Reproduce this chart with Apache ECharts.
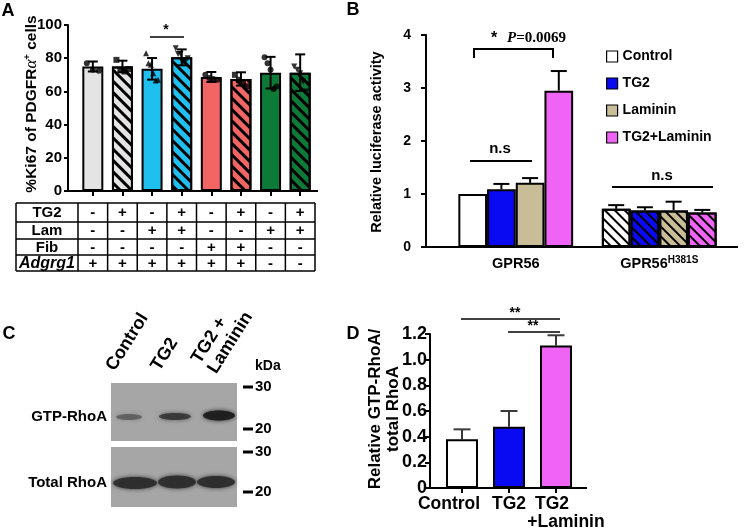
<!DOCTYPE html>
<html><head><meta charset="utf-8">
<script src="https://cdn.jsdelivr.net/npm/echarts@6/dist/echarts.min.js"></script>
<style>html,body{margin:0;padding:0;background:#fff}#c{width:745px;height:532px}</style>
</head><body><div id="c"></div>
<script>
const FONT = '"Liberation Sans", Arial, Helvetica, sans-serif';
const SERIF = '"Liberation Serif", "Times New Roman", serif';

// ---------- Panel A data ----------
const aConditions = ['1', '2', '3', '4', '5', '6', '7', '8'];
const aMeans = [75, 75, 73.6, 80.5, 68.7, 67.5, 71.3, 71.3];
const aSD = [3, 3.5, 6.5, 4.8, 3, 4, 9.5, 11];
const aDots = [
  [77, 73, 72.5],
  [79, 73, 72, 73.5],
  [83, 77, 76, 71, 66.5, 67],
  [86, 82.5, 82.5, 77.5, 78, 80],
  [70, 68, 67.5, 67],
  [70, 67, 65, 63],
  [80.5, 77, 73, 61.5, 63],
  [75, 73, 71, 66, 60]
];
const aYTicks = [0, 20, 40, 60, 80, 100];
const tableLabels = ['TG2', 'Lam', 'Fib', 'Adgrg1'];
const tableTG2 = ['-', '+', '-', '+', '-', '+', '-', '+'];
const tableLam = ['-', '-', '+', '+', '-', '-', '+', '+'];
const tableFib = ['-', '-', '-', '-', '+', '+', '-', '-'];
const tableAdgrg1 = ['+', '+', '+', '+', '+', '+', '-', '-'];

// ---------- Panel B data ----------
const bGroups = ['GPR56', 'GPR56H381S'];
const bNames = ['Control', 'TG2', 'Laminin', 'TG2+Laminin'];
const bControl = [1.0, 0.72];
const bTG2 = [1.09, 0.69];
const bLaminin = [1.21, 0.69];
const bTG2Laminin = [2.95, 0.65];
const bControlErr = [null, 0.79];
const bTG2Err = [1.19, 0.75];
const bLamininErr = [1.30, 0.855];
const bTG2LamininErr = [3.32, 0.70];

// ---------- Panel D data ----------
const dCats = ['Control', 'TG2', 'TG2+Laminin'];
const dValues = [0.38, 0.478, 1.11];
const dErrTop = [0.457, 0.60, 1.19];

// ---------- styles ----------
const aColors = ['#e4e4e4', '#e4e4e4', '#1fbff0', '#1fbff0', '#f26565', '#f26565', '#0d7a37', '#0d7a37'];
const aHatched = [false, true, false, true, false, true, false, true];
const aSymbols = ['circle', 'rect', 'triangle', 'path://M0,0 L10,0 L5,9 Z', 'circle', 'rect', 'circle', 'path://M0,0 L10,0 L5,9 Z'];
const bColors = ['#ffffff', '#0a0af2', '#c9bd98', '#f064f5'];
const dColors = ['#ffffff', '#0a0af2', '#f064f5'];

const hatchA = { symbol: 'rect', symbolSize: 1, dashArrayX: [1, 0], dashArrayY: [2.8, 4.2], rotation: Math.PI / 4, color: '#000' };
const hatchB = { symbol: 'rect', symbolSize: 1, dashArrayX: [1, 0], dashArrayY: [1.4, 5], rotation: Math.PI / 4, color: '#000' };

function errRender(offset, capW, color, lw, both) {
  return function (params, api) {
    const c = api.value(0);
    const lo = api.coord([c, api.value(1)]);
    const hi = api.coord([c, api.value(2)]);
    const x = lo[0] + offset;
    const st = { stroke: color, lineWidth: lw };
    const ch = [
      { type: 'line', shape: { x1: x, y1: lo[1], x2: x, y2: hi[1] }, style: st },
      { type: 'line', shape: { x1: x - capW / 2, y1: hi[1], x2: x + capW / 2, y2: hi[1] }, style: st }
    ];
    if (both) ch.push({ type: 'line', shape: { x1: x - capW / 2, y1: lo[1], x2: x + capW / 2, y2: lo[1] }, style: st });
    return { type: 'group', children: ch };
  };
}

const axisLineBlack = (w) => ({ show: true, lineStyle: { color: '#000', width: w } });
const boldLabel = (size, extra) => Object.assign({ color: '#000', fontFamily: FONT, fontWeight: 'bold', fontSize: size }, extra || {});

const series = [];

// A bars
series.push({
  type: 'bar', xAxisIndex: 0, yAxisIndex: 0, barWidth: 21, z: 2,
  data: aMeans.map((v, i) => ({
    value: v,
    itemStyle: Object.assign({ color: aColors[i], borderColor: '#000', borderWidth: 2 }, aHatched[i] ? { decal: hatchA } : {})
  }))
});
// A error bars (mean ± SD)
series.push({
  type: 'custom', xAxisIndex: 0, yAxisIndex: 0, z: 4,
  encode: { x: 0, y: [1, 2] },
  renderItem: errRender(0, 10, '#000', 2, true),
  data: aMeans.map((m, i) => [i, m - aSD[i], m + aSD[i]])
});
// A individual points
const dotData = [];
aDots.forEach((arr, i) => {
  arr.forEach((v, k) => {
    const off = arr.length === 1 ? 0 : -6 + 12 * k / (arr.length - 1);
    dotData.push({ value: [i, v], symbol: aSymbols[i], symbolOffset: [off, 0] });
  });
});
series.push({
  type: 'scatter', xAxisIndex: 0, yAxisIndex: 0, z: 5, symbolSize: 6,
  itemStyle: { color: '#000' }, data: dotData
});

// B bars
const bVals = [bControl, bTG2, bLaminin, bTG2Laminin];
const bErrs = [bControlErr, bTG2Err, bLamininErr, bTG2LamininErr];
const bBarW = 28.7;
bNames.forEach((name, k) => {
  series.push({
    type: 'bar', name: name, xAxisIndex: 1, yAxisIndex: 1, barWidth: bBarW, barGap: '0%', z: 2,
    itemStyle: { color: bColors[k], borderColor: '#000', borderWidth: 2 },
    data: bVals[k].map((v, i) => (i === 1 ? { value: v, itemStyle: { decal: hatchB } } : v))
  });
});
bNames.forEach((name, k) => {
  series.push({
    type: 'custom', name: 'err' + k, xAxisIndex: 1, yAxisIndex: 1, z: 1,
    encode: { x: 0, y: [1, 2] },
    renderItem: errRender((k - 1.5) * bBarW, 16, '#000', 2, false),
    data: bErrs[k].map((t, i) => (t == null ? null : [i, bVals[k][i], t])).filter(Boolean)
  });
});

// D bars
series.push({
  type: 'bar', xAxisIndex: 2, yAxisIndex: 2, barWidth: 32, z: 2,
  data: dValues.map((v, i) => ({ value: v, itemStyle: { color: dColors[i], borderColor: '#000', borderWidth: 2 } }))
});
series.push({
  type: 'custom', xAxisIndex: 2, yAxisIndex: 2, z: 1,
  encode: { x: 0, y: [1, 2] },
  renderItem: errRender(0, 17, '#3a3a3a', 2, false),
  data: dValues.map((v, i) => [i, v, dErrTop[i]])
});

const richD = (extra) => Object.assign({ fontFamily: FONT, fontWeight: 'bold', fontSize: 17.5, color: '#000', lineHeight: 18 }, extra);

const option = {
  animation: false,
  backgroundColor: '#fff',
  textStyle: { fontFamily: FONT },
  grid: [
    { left: 78, top: 25, width: 237, height: 166, outerBoundsMode: 'none', containLabel: false },
    { left: 444, top: 35, width: 287, height: 212, outerBoundsMode: 'none', containLabel: false },
    { left: 438.5, top: 334, width: 141, height: 154, outerBoundsMode: 'none', containLabel: false }
  ],
  xAxis: [
    { type: 'category', gridIndex: 0, data: aConditions, axisLine: axisLineBlack(2),
      axisTick: { show: true, alignWithLabel: true, length: 5, lineStyle: { color: '#000', width: 2 } },
      axisLabel: { show: false }, splitLine: { show: false } },
    { type: 'category', gridIndex: 1, data: bGroups, axisLine: axisLineBlack(2),
      axisTick: { show: false },
      axisLabel: boldLabel(14.5, { margin: 8, interval: 0, hideOverlap: false,
        formatter: v => v === 'GPR56H381S' ? '{m|GPR56}{s|H381S}' : '{m|' + v + '}',
        rich: { m: { fontFamily: FONT, fontWeight: 'bold', fontSize: 14.5, color: '#000', lineHeight: 17 },
                s: { fontFamily: FONT, fontWeight: 'bold', fontSize: 10, color: '#000', verticalAlign: 'top', lineHeight: 17, padding: [0, 0, 8, 0] } } }),
      splitLine: { show: false } },
    { type: 'category', gridIndex: 2, data: dCats, axisLine: axisLineBlack(2),
      axisTick: { show: true, alignWithLabel: true, length: 5, lineStyle: { color: '#000', width: 2 } },
      axisLabel: boldLabel(17.5, { margin: 7, interval: 0, hideOverlap: false,
        formatter: v => v === 'TG2+Laminin' ? '{a|TG2}\n{b|+Laminin}' : (v === 'Control' ? '{c|Control}' : '{t|' + v + '}'),
        rich: { a: richD({ padding: [0, 8, 0, 0] }),
                b: richD({ padding: [0, 0, 0, 20] }),
                c: richD({ padding: [0, 26, 0, 0] }),
                t: richD({}) } }),
      splitLine: { show: false } }
  ],
  yAxis: [
    { type: 'value', gridIndex: 0, min: aYTicks[0], max: aYTicks[aYTicks.length - 1], interval: 20, offset: 10,
      axisLine: axisLineBlack(2), axisTick: { show: true, length: 4, lineStyle: { color: '#000', width: 2 } },
      axisLabel: boldLabel(15, { margin: 6 }), splitLine: { show: false } },
    { type: 'value', gridIndex: 1, min: 0, max: 4, interval: 1, offset: 18,
      axisLine: axisLineBlack(2), axisTick: { show: true, length: 5, lineStyle: { color: '#000', width: 2 } },
      axisLabel: boldLabel(14, { margin: 15 }), splitLine: { show: false } },
    { type: 'value', gridIndex: 2, min: 0, max: 1.2, interval: 0.2, offset: 8.5,
      axisLine: axisLineBlack(2), axisTick: { show: true, length: 5, lineStyle: { color: '#000', width: 2 } },
      axisLabel: boldLabel(18, { margin: 3, formatter: v => (v === 0 ? '0' : v.toFixed(1)) }), splitLine: { show: false } }
  ],
  legend: {
    data: bNames, orient: 'vertical', left: 606, top: 48, padding: 0, itemWidth: 11, itemHeight: 11, itemGap: 10,
    icon: 'rect', selectedMode: false,
    itemStyle: { borderColor: '#000', borderWidth: 1.2 },
    textStyle: { fontFamily: FONT, fontWeight: 'bold', fontSize: 14, color: '#000', lineHeight: 17 }
  },
  series: series
};

const chart = echarts.init(document.getElementById('c'), null, { renderer: 'canvas' });
chart.setOption(option);

// ---------- graphic overlay ----------
const g = [];
function txt(x, y, text, size, opts) {
  g.push({ type: 'text', x: x, y: y, rotation: (opts && opts.rot) || 0, z: 10,
    style: Object.assign({ text: text, fontFamily: FONT, fontWeight: 'bold', fontSize: size, fill: '#000',
      align: 'center', verticalAlign: 'middle' }, (opts && opts.style) || {}) });
}
function line(x1, y1, x2, y2, w, color) {
  g.push({ type: 'line', z: 10, shape: { x1: x1, y1: y1, x2: x2, y2: y2 }, style: { stroke: color || '#000', lineWidth: w } });
}

// panel letters
txt(8, 11, 'A', 18); txt(353, 10, 'B', 18); txt(9, 334, 'C', 18); txt(353, 334, 'D', 18);

// axis line extensions
line(67, 191, 79, 191, 2); line(314, 191, 318, 191, 2);
line(425, 247, 445, 247, 2); line(730, 247, 738, 247, 2);
line(428, 488, 439, 488, 2); line(579, 488, 587, 488, 2);

// A y title
g.push({ type: 'text', x: 32, y: 104, rotation: Math.PI / 2, z: 10,
  style: { text: '%Ki67 of PDGFR{al|α}{sup|+} cells', fontFamily: FONT, fontWeight: 'bold', fontSize: 15.5, fill: '#000',
    align: 'center', verticalAlign: 'middle',
    rich: { al: { fontFamily: SERIF, fontStyle: 'italic', fontSize: 17, fill: '#000', lineHeight: 19 },
            sup: { fontFamily: FONT, fontWeight: 'bold', fontSize: 9.5, fill: '#000', verticalAlign: 'top', lineHeight: 19 } } } });
// A significance
line(150, 37, 184, 37, 1.5); txt(166, 30, '*', 14);

// A table
const cx = aConditions.map((c, i) => chart.convertToPixel({ xAxisIndex: 0 }, i));
const step = cx[1] - cx[0];
const tLeft = 16, tLab = cx[0] - step / 2, tRight = cx[cx.length - 1] + step / 2;
const rowsY = [203, 222, 239, 255, 271];
rowsY.forEach(y => line(tLeft, y, tRight, y, 1.5));
line(tLeft, rowsY[0], tLeft, rowsY[4], 1.5);
line(tLab, rowsY[0], tLab, rowsY[4], 1.5);
cx.forEach((x, i) => line(x + step / 2, rowsY[0], x + step / 2, rowsY[4], 1.5));
const tableRows = [tableTG2, tableLam, tableFib, tableAdgrg1];
tableLabels.forEach((lab, r) => {
  const yc = (rowsY[r] + rowsY[r + 1]) / 2 + 0.5;
  txt((tLeft + tLab) / 2, yc, lab, r === 3 ? 16 : 15, r === 3 ? { style: { fontStyle: 'italic' } } : null);
  tableRows[r].forEach((s, i) => txt(cx[i], yc, s, 15));
});

// B y title
txt(377, 142, 'Relative luciferase activity', 14.5, { rot: Math.PI / 2 });
// B annotations
txt(494, 39, '*', 16);
g.push({ type: 'text', x: 507, y: 38, z: 10,
  style: { text: '{p|P}{n|=0.0069}', align: 'left', verticalAlign: 'middle',
    rich: { p: { fontFamily: SERIF, fontStyle: 'italic', fontWeight: 'bold', fontSize: 15, fill: '#000' },
            n: { fontFamily: SERIF, fontWeight: 'bold', fontSize: 15, fill: '#000' } } } });
g.push({ type: 'polyline', z: 10, shape: { points: [[474, 58], [474, 49], [553, 49], [553, 58]] }, style: { stroke: '#000', lineWidth: 2, fill: null } });
txt(500, 149, 'n.s', 15); line(470, 161, 532, 161, 2);
txt(662, 176, 'n.s', 15); line(612, 187, 713, 187, 2);

// C western blot
g.push({ type: 'rect', z: 5, shape: { x: 111, y: 383, width: 126, height: 58 }, style: { fill: '#a6a6a6' } });
g.push({ type: 'rect', z: 5, shape: { x: 111, y: 447, width: 126, height: 60 }, style: { fill: '#a6a6a6' } });
const bands = [
  [129, 417, 13, 3, 'rgba(60,60,60,0.55)'],
  [175, 416.5, 16, 3.5, 'rgba(45,45,45,0.8)'],
  [219, 415.5, 16, 5, 'rgba(30,30,30,0.95)'],
  [135, 483, 22, 6, 'rgba(45,45,45,0.95)'],
  [177, 482, 19, 6.5, 'rgba(45,45,45,0.95)'],
  [216, 482, 19, 6, 'rgba(45,45,45,0.95)']
];
bands.forEach(b => g.push({ type: 'ellipse', z: 6, shape: { cx: b[0], cy: b[1], rx: b[2], ry: b[3] },
  style: { fill: b[4], shadowBlur: 4, shadowColor: b[4] } }));
txt(107, 417, 'GTP-RhoA', 15, { style: { align: 'right' } });
txt(107, 483, 'Total RhoA', 15, { style: { align: 'right' } });
const rot = 58 * Math.PI / 180;
txt(118, 374, 'Control', 18, { rot: rot, style: { align: 'left', verticalAlign: 'bottom' } });
txt(163, 374, 'TG2', 18, { rot: rot, style: { align: 'left', verticalAlign: 'bottom' } });
txt(220, 377, 'TG2 +\nLaminin', 18, { rot: rot, style: { align: 'left', verticalAlign: 'bottom', lineHeight: 19 } });
txt(255, 366, 'kDa', 14, { style: { align: 'left' } });
[[387, '30'], [429, '20'], [452, '30'], [492, '20']].forEach(m => {
  line(243, m[0], 253, m[0], 3);
  txt(255, m[0], m[1], 15, { style: { align: 'left' } });
});

// D y title
txt(384, 409, 'Relative GTP-RhoA/\ntotal RhoA', 17, { rot: Math.PI / 2, style: { lineHeight: 18 } });
// D significance
line(461, 319, 560, 319, 1.5); txt(515, 313, '**', 14);
line(508, 332, 560, 332, 1.5); txt(533, 326, '**', 14);

chart.setOption({ graphic: { elements: g } });
</script>
</body></html>
